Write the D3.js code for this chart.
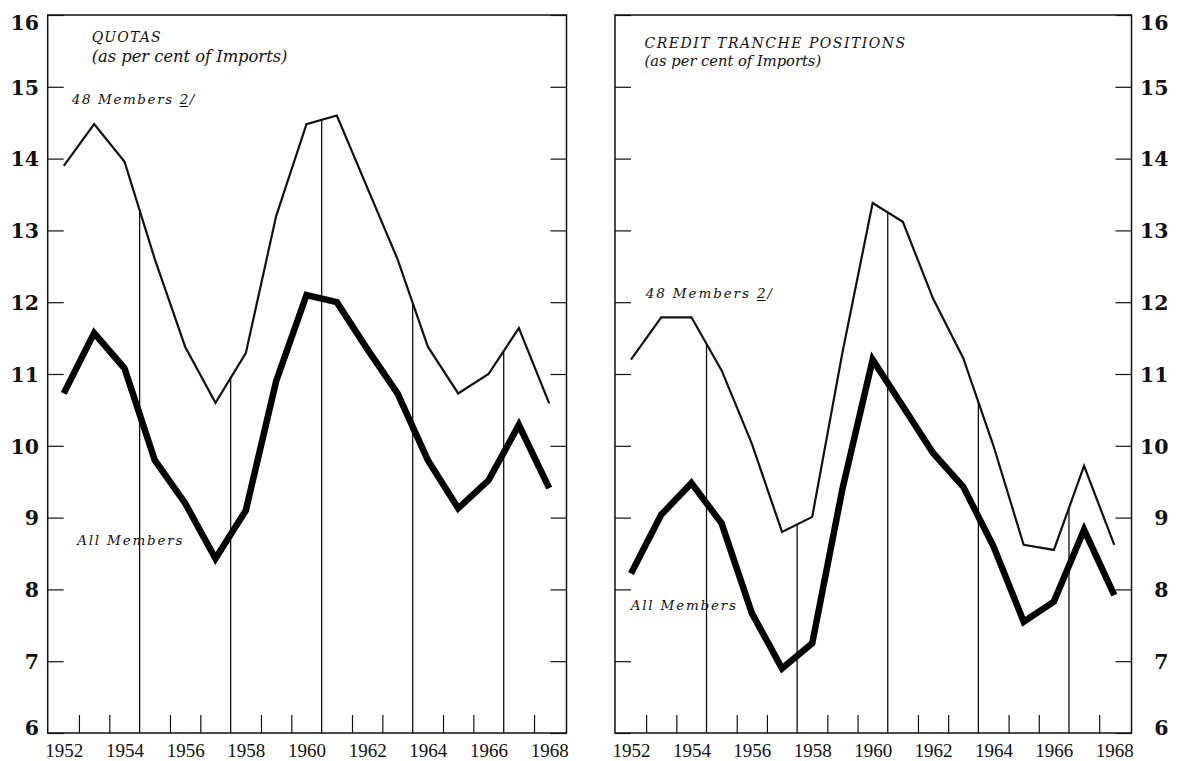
<!DOCTYPE html>
<html>
<head>
<meta charset="utf-8">
<script src="https://d3js.org/d3.v7.min.js"></script>
<style>
  body { margin: 0; background: #fff; }
</style>
</head>
<body>
<svg id="chart"></svg>
<script>
// Years shown on both panels
let years = d3.range(1952, 1969)
let yTickValues = d3.range(6, 17)
let yearLabels = [1952, 1954, 1956, 1958, 1960, 1962, 1964, 1966, 1968]
let dividerYears = [1954.5, 1957.5, 1960.5, 1963.5, 1966.5]
let halfYearTicks = d3.range(1952.5, 1968, 1).filter(d => dividerYears.indexOf(d) < 0)

// Quotas (as per cent of imports)
let quotas48 = [13.9, 14.48, 13.96, 12.6, 11.38, 10.6, 11.29, 13.2, 14.48, 14.6, 13.6, 12.6, 11.38, 10.73, 11.0, 11.64, 10.59]
let quotasAll = [10.73, 11.57, 11.08, 9.8, 9.2, 8.43, 9.1, 10.9, 12.1, 12.0, 11.35, 10.73, 9.8, 9.13, 9.52, 10.29, 9.41]

// Credit tranche positions (as per cent of imports)
let credit48 = [11.2, 11.79, 11.79, 11.05, 10.03, 8.8, 9.01, 11.3, 13.38, 13.12, 12.05, 11.22, 10.0, 8.62, 8.55, 9.72, 8.62]
let creditAll = [8.22, 9.04, 9.48, 8.92, 7.67, 6.9, 7.25, 9.4, 11.2, 10.55, 9.9, 9.43, 8.6, 7.55, 7.83, 8.83, 7.92]

let serif = "'DejaVu Serif', serif"

let svg = d3.select("#chart").attr("width", 1177).attr("height", 761)
svg.append("rect").attr("width", 1177).attr("height", 761).attr("fill", "#fff")

drawPanel(svg, {
    left: 47.7, right: 566.5, top: 15, bottom: 733, labelSide: "left",
    thin: quotas48, thick: quotasAll,
    title: {text: "QUOTAS", x: 91.7, y: 41.7, size: 14, spacing: 1.2},
    subtitle: {text: "(as per cent of Imports)", x: 91.7, y: 61.7, size: 16.3, spacing: 0},
    thinLabel: {x: 71.7, y: 103.5, spacing: 1.6},
    thickLabel: {x: 77.2, y: 545}
})

drawPanel(svg, {
    left: 615, right: 1131.5, top: 15, bottom: 733, labelSide: "right",
    thin: credit48, thick: creditAll,
    title: {text: "CREDIT TRANCHE POSITIONS", x: 644.6, y: 47.5, size: 14, spacing: 1.5},
    subtitle: {text: "(as per cent of Imports)", x: 644.6, y: 66, size: 14.7, spacing: 0},
    thinLabel: {x: 645.7, y: 297.5, spacing: 1.9},
    thickLabel: {x: 630.7, y: 610}
})

// Value of a yearly series at a fractional year (straight line between points)
function valueAt(series, yr) {
    let i = Math.floor(yr - years[0])
    let t = yr - years[i]
    return series[i] * (1 - t) + series[i + 1] * t
}

function drawPanel(svg, p) {
    let x = d3.scaleLinear()
        .domain([1951.47, 1968.57])
        .range([p.left, p.right])
    let y = d3.scaleLinear()
        .domain([6, 16])
        .range([p.bottom, p.top])

    let g = svg.append("g")

    // Y ticks pointing inward on both sides, labels on one side
    let leftAxis = d3.axisLeft(y).tickValues(yTickValues).tickSize(-16).tickPadding(9)
    let rightAxis = d3.axisRight(y).tickValues(yTickValues).tickSize(-16).tickPadding(7)
    if (p.labelSide == "left") rightAxis.tickFormat("")
    else leftAxis.tickFormat("")

    let ga = g.append("g").attr("transform", "translate(" + p.left + ",0)").call(leftAxis)
    let gb = g.append("g").attr("transform", "translate(" + p.right + ",0)").call(rightAxis)

    // Bottom ticks at half years, pointing inward
    let gc = g.append("g").attr("transform", "translate(0," + p.bottom + ")")
        .call(d3.axisBottom(x).tickValues(halfYearTicks).tickSize(-18).tickFormat(""))

    // Year labels
    let gd = g.append("g").attr("transform", "translate(0," + p.bottom + ")")
        .call(d3.axisBottom(x).tickValues(yearLabels).tickSize(0).tickPadding(11).tickFormat(d3.format("d")))

    ;[ga, gb, gc, gd].forEach(function (a) {
        a.select(".domain").remove()
        a.selectAll("line").attr("stroke", "#111").attr("stroke-width", 1.2)
    })

    gd.selectAll("text")
        .attr("font-family", "'Liberation Serif', serif")
        .attr("font-size", 19)
        .attr("fill", "#111")

    let yLabels = (p.labelSide == "left" ? ga : gb)
    yLabels.selectAll("text")
        .attr("font-family", serif)
        .attr("font-weight", "bold")
        .attr("font-size", 20.5)
        .attr("fill", "#111")
        .attr("dy", "0.36em")
        .attr("text-anchor", "end")
        .attr("x", p.labelSide == "left" ? -8.7 : 37)
    // keep the end labels inside the frame height
    yLabels.selectAll(".tick").filter(d => d == 16).select("text").attr("y", 7.5)
    yLabels.selectAll(".tick").filter(d => d == 6).select("text").attr("y", -6)

    // Vertical dividers dropping from the 48 members line to the base
    g.selectAll(".divider").data(dividerYears).join("line")
        .attr("class", "divider")
        .attr("x1", d => x(d)).attr("x2", d => x(d))
        .attr("y1", d => y(valueAt(p.thin, d)))
        .attr("y2", p.bottom)
        .attr("stroke", "#111")
        .attr("stroke-width", 1.3)

    // Frame
    g.append("rect")
        .attr("x", p.left).attr("y", p.top)
        .attr("width", p.right - p.left).attr("height", p.bottom - p.top)
        .attr("fill", "none")
        .attr("stroke", "#111")
        .attr("stroke-width", 1.5)

    let line = d3.line()
        .x((d, i) => x(years[i]))
        .y(d => y(d))

    g.append("path").datum(p.thin)
        .attr("fill", "none").attr("stroke", "#111")
        .attr("stroke-width", 2.2)
        .attr("stroke-linejoin", "miter")
        .attr("d", line)

    g.append("path").datum(p.thick)
        .attr("fill", "none").attr("stroke", "#000")
        .attr("stroke-width", 6.5)
        .attr("stroke-linejoin", "miter")
        .attr("stroke-miterlimit", 3)
        .attr("d", line)

    // Titles
    ;[p.title, p.subtitle].forEach(function (t) {
        g.append("text")
            .attr("x", t.x).attr("y", t.y)
            .attr("font-family", serif)
            .attr("font-style", "italic")
            .attr("font-size", t.size)
            .attr("letter-spacing", t.spacing)
            .attr("fill", "#111")
            .text(t.text)
    })

    // Series labels
    let lab = g.append("text")
        .attr("x", p.thinLabel.x).attr("y", p.thinLabel.y)
        .attr("font-family", serif)
        .attr("font-style", "italic")
        .attr("font-size", 13.5)
        .attr("letter-spacing", p.thinLabel.spacing)
        .attr("fill", "#111")
        .text("48 Members 2/")
    // underline the footnote number
    let box = lab.node().getExtentOfChar(11)
    g.append("line")
        .attr("x1", box.x).attr("x2", box.x + box.width - p.thinLabel.spacing)
        .attr("y1", p.thinLabel.y + 3).attr("y2", p.thinLabel.y + 3)
        .attr("stroke", "#111").attr("stroke-width", 1)

    g.append("text")
        .attr("x", p.thickLabel.x).attr("y", p.thickLabel.y)
        .attr("font-family", serif)
        .attr("font-style", "italic")
        .attr("font-size", 13.5)
        .attr("letter-spacing", 1.8)
        .attr("fill", "#111")
        .text("All Members")
}
</script>
</body>
</html>
